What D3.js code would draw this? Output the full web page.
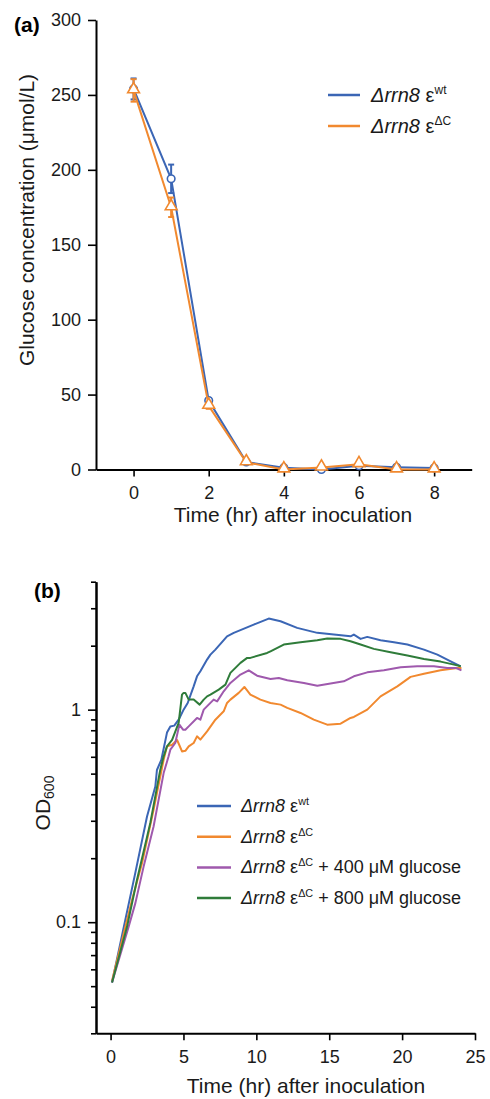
<!DOCTYPE html>
<meta charset="utf-8">
<style>
body { margin: 0; background: #fff; }
svg { font-family: "Liberation Sans", Arial, sans-serif; }
.axis path, .axis line { stroke: #000; }
.axis path { stroke-width: 2; }
.axis line { stroke-width: 1.6; }
.axis text { font-size: 18px; fill: #1a1a1a; }
</style>
<body>
<script src="https://cdn.jsdelivr.net/npm/d3@7/dist/d3.min.js"></script>
<script>

// ---- panel (a): glucose concentration ----
var hoursA  = [0, 1, 2, 3, 4, 5, 6, 7, 8];
var wtMean  = [254, 194, 46, 5, 1.2, 0, 2.5, 1.5, 1.0];
var wtErr   = [7, 9.5, 1.5, 0.5, 0.5, 0.5, 0.5, 0.5, 0.5];
var dcMean  = [253, 175, 42.5, 4.8, 0, 1.3, 3.5, 0, 0];
var dcErr   = [7.5, 6.5, 2, 1, 0.5, 0.5, 1, 0.5, 0.5];
var yTicksA = [0, 50, 100, 150, 200, 250, 300];
var xTicksA = [0, 2, 4, 6, 8];

// ---- panel (b): OD600 growth curves (hr, OD) ----
var wtCurve = [[0.1,0.052],[1.01,0.1025],[1.7,0.171],[2.5,0.314],[3.07,0.435],[3.18,0.52],[3.48,0.58],
  [3.87,0.78],[4.1,0.834],[4.37,0.841],[4.67,0.897],[5.01,1.0],[5.29,1.075],[5.7,1.287],[5.93,1.435],
  [6.16,1.515],[6.62,1.72],[6.85,1.815],[7.19,1.917],[7.99,2.214],[8.45,2.298],[9.82,2.514],[10.85,2.683],
  [11.66,2.606],[12.8,2.426],[14.18,2.298],[15.32,2.256],[16.46,2.214],[16.69,2.256],[17.15,2.153],
  [17.61,2.2],[18.52,2.12],[19.44,2.075],[20.36,2.024],[21.5,1.917],[22.42,1.815],[23.33,1.689],[24.02,1.6]];
var dcCurve = [[0.1,0.053],[1.47,0.127],[2.16,0.19],[2.95,0.338],[3.64,0.581],[3.87,0.672],[4.22,0.684],
  [4.56,0.72],[4.72,0.68],[4.9,0.636],[5.13,0.64],[5.36,0.672],[5.7,0.697],[5.93,0.749],[6.16,0.7225],
  [6.62,0.79],[7.19,0.897],[7.76,0.982],[7.99,1.075],[8.22,1.115],[8.79,1.199],[9.18,1.279],[9.59,1.177],
  [10.28,1.115],[10.97,1.075],[11.66,1.056],[12.12,1.019],[13.03,0.965],[13.94,0.897],[14.86,0.85],
  [15.78,0.859],[16.46,0.914],[16.69,0.924],[17.61,1.0],[18.52,1.155],[19.67,1.287],[20.58,1.426],
  [21.5,1.477],[22.64,1.531],[23.79,1.572],[24.07,1.572]];
var g400Curve = [[0.1,0.052],[1.24,0.0953],[1.7,0.1229],[2.27,0.183],[2.95,0.282],[3.64,0.503],[3.98,0.603],
  [4.1,0.648],[4.44,0.697],[4.72,0.85],[4.97,0.805],[5.13,0.805],[5.36,0.834],[5.93,0.914],[6.16,0.897],
  [6.39,1.0],[7.07,1.115],[7.31,1.094],[7.76,1.22],[8.22,1.336],[8.91,1.462],[9.48,1.531],[10.05,1.445],
  [10.97,1.395],[11.54,1.41],[12.12,1.374],[13.26,1.336],[14.18,1.297],[15.09,1.326],[16.0,1.359],
  [16.69,1.435],[17.61,1.498],[18.75,1.531],[19.9,1.582],[21.04,1.6],[22.18,1.6],[23.1,1.572],
  [23.67,1.572],[24.07,1.531]];
var g800Curve = [[0.1,0.052],[1.13,0.0953],[1.81,0.158],[2.73,0.294],[3.41,0.522],[3.64,0.603],[3.87,0.672],
  [4.22,0.72],[4.67,0.866],[4.9,1.177],[5.01,1.199],[5.13,1.199],[5.36,1.115],[5.7,1.115],[6.11,1.056],
  [6.39,1.115],[6.62,1.155],[6.85,1.177],[7.42,1.242],[7.88,1.311],[8.22,1.489],[8.91,1.66],[9.37,1.752],
  [9.59,1.752],[10.74,1.849],[10.97,1.882],[11.88,2.024],[13.03,2.075],[14.18,2.12],[14.86,2.16],
  [15.78,2.153],[16.46,2.097],[17.15,2.024],[18.06,1.932],[19.21,1.861],[20.36,1.796],[21.5,1.733],
  [22.64,1.683],[23.56,1.629],[24.02,1.6]];
var majorTicksB = [0.1, 1];
var minorTicksB = [0.03,0.04,0.05,0.06,0.07,0.08,0.09,0.2,0.3,0.4,0.5,0.6,0.7,0.8,0.9,2,3,4];
var xTicksB = [0, 5, 10, 15, 20, 25];

var blue = "#3b66b5", orange = "#f1892f", purple = "#9f59ad", green = "#2f7c3a";

var svg = d3.select("body").append("svg")
    .attr("width", 490)
    .attr("height", 1099);

// ================= panel (a) =================
var xA = d3.scaleLinear().domain([-1, 9]).range([96, 471.7]);
var yA = d3.scaleLinear().domain([0, 300]).range([469.5, 20]);

svg.append("g")
    .attr("class", "axis")
    .attr("transform", "translate(0," + yA(0) + ")")
    .call(d3.axisBottom(xA).tickValues(xTicksA).tickSize(7).tickSizeOuter(0).tickPadding(10));

svg.append("g")
    .attr("class", "axis")
    .attr("transform", "translate(" + xA(-1) + ",0)")
    .call(d3.axisLeft(yA).tickValues(yTicksA).tickSize(8).tickSizeOuter(0).tickPadding(7));

var seriesA = [
  {mean: wtMean, err: wtErr, color: blue, marker: "circle"},
  {mean: dcMean, err: dcErr, color: orange, marker: "triangle"}
];

var lineA = d3.line().x(function(d) { return xA(d[0]); }).y(function(d) { return yA(d[1]); });

seriesA.forEach(function(s) {
  var pts = hoursA.map(function(h, i) { return [h, s.mean[i], s.err[i]]; });
  svg.append("path")
      .attr("d", lineA(pts))
      .attr("fill", "none")
      .attr("stroke", s.color)
      .attr("stroke-width", 2);

  var eb = svg.append("g");
  pts.forEach(function(p) {
    var x = xA(p[0]);
    eb.append("line").attr("x1", x).attr("x2", x)
      .attr("y1", yA(p[1] - p[2])).attr("y2", yA(p[1] + p[2]))
      .attr("stroke", s.color).attr("stroke-width", 2);
    [p[1] - p[2], p[1] + p[2]].forEach(function(v) {
      eb.append("line").attr("x1", x - 3).attr("x2", x + 3)
        .attr("y1", yA(v)).attr("y2", yA(v))
        .attr("stroke", s.color).attr("stroke-width", 2);
    });
  });

  var sym = s.marker == "circle" ? d3.symbol().type(d3.symbolCircle).size(45)
                                 : d3.symbol().type(d3.symbolTriangle).size(60);
  svg.append("g").selectAll("path")
      .data(pts).enter().append("path")
      .attr("transform", function(d) { return "translate(" + xA(d[0]) + "," + (yA(d[1]) + (s.marker == "circle" ? 0 : -1)) + ")"; })
      .attr("d", sym)
      .attr("fill", "#fff")
      .attr("stroke", s.color)
      .attr("stroke-width", 1.6);
});

svg.append("text")
    .attr("x", 14).attr("y", 32)
    .style("font-size", "21px").style("font-weight", "bold")
    .text("(a)");

svg.append("text")
    .attr("transform", "translate(34,220) rotate(-90)")
    .attr("text-anchor", "middle")
    .style("font-size", "21px").attr("fill", "#1a1a1a")
    .text("Glucose concentration (\u03bcmol/L)");

svg.append("text")
    .attr("x", 293).attr("y", 522)
    .attr("text-anchor", "middle")
    .style("font-size", "21px").attr("fill", "#1a1a1a")
    .text("Time (hr) after inoculation");

function legendLabel(g, x, y, size, sup, tail) {
  var t = g.append("text").attr("x", x).attr("y", y)
      .style("font-size", size + "px").attr("fill", "#1a1a1a");
  t.append("tspan").style("font-style", "italic").text("\u0394rrn8");
  t.append("tspan").text(" \u03b5");
  t.append("tspan").attr("dy", -size * 0.4).style("font-size", (size * 0.6) + "px").text(sup);
  if (tail) t.append("tspan").attr("dy", size * 0.4).text(" " + tail);
}

var legA = [{color: blue, sup: "wt"}, {color: orange, sup: "\u0394C"}];
legA.forEach(function(d, i) {
  var y = 95 + i * 31;
  svg.append("line").attr("x1", 328).attr("x2", 360).attr("y1", y).attr("y2", y)
    .attr("stroke", d.color).attr("stroke-width", 2.5);
  legendLabel(svg, 371, y + 7, 20, d.sup, null);
});

// ================= panel (b) =================
var xB = d3.scaleLinear().domain([-1, 25]).range([96, 475]);
var yB = d3.scaleLog().domain([0.03, 4]).range([1033.3, 581.7]);

svg.append("g")
    .attr("class", "axis")
    .attr("transform", "translate(0," + yB(0.03) + ")")
    .call(d3.axisBottom(xB).tickValues(xTicksB).tickSize(7).tickSizeOuter(0).tickPadding(10));

svg.append("g")
    .attr("class", "axis")
    .attr("transform", "translate(" + xB(-1) + ",0)")
    .call(d3.axisLeft(yB).tickValues(minorTicksB).tickFormat("").tickSize(5).tickSizeOuter(0));

svg.append("g")
    .attr("class", "axis")
    .attr("transform", "translate(" + xB(-1) + ",0)")
    .call(d3.axisLeft(yB).tickValues(majorTicksB).tickFormat(d3.format("")).tickSize(8).tickSizeOuter(0).tickPadding(7));

var lineB = d3.line().x(function(d) { return xB(d[0]); }).y(function(d) { return yB(d[1]); });

var seriesB = [
  {data: wtCurve, color: blue, sup: "wt", tail: null},
  {data: dcCurve, color: orange, sup: "\u0394C", tail: null},
  {data: g400Curve, color: purple, sup: "\u0394C", tail: "+ 400 \u03bcM glucose"},
  {data: g800Curve, color: green, sup: "\u0394C", tail: "+ 800 \u03bcM glucose"}
];

seriesB.forEach(function(s) {
  svg.append("path")
      .attr("d", lineB(s.data))
      .attr("fill", "none")
      .attr("stroke", s.color)
      .attr("stroke-width", 2)
      .attr("stroke-linejoin", "round");
});

seriesB.forEach(function(s, i) {
  var y = 806 + i * 30.7;
  svg.append("line").attr("x1", 197).attr("x2", 231).attr("y1", y).attr("y2", y)
    .attr("stroke", s.color).attr("stroke-width", 2.5);
  legendLabel(svg, 241, y + 6, 18, s.sup, s.tail);
});

svg.append("text")
    .attr("x", 34).attr("y", 598)
    .style("font-size", "21px").style("font-weight", "bold")
    .text("(b)");

var od = svg.append("text")
    .attr("transform", "translate(50,803) rotate(-90)")
    .attr("text-anchor", "middle")
    .style("font-size", "21px").attr("fill", "#1a1a1a");
od.append("tspan").text("OD");
od.append("tspan").attr("dy", 4).style("font-size", "14px").text("600");

svg.append("text")
    .attr("x", 306).attr("y", 1093)
    .attr("text-anchor", "middle")
    .style("font-size", "21px").attr("fill", "#1a1a1a")
    .text("Time (hr) after inoculation");

</script>
</body>
